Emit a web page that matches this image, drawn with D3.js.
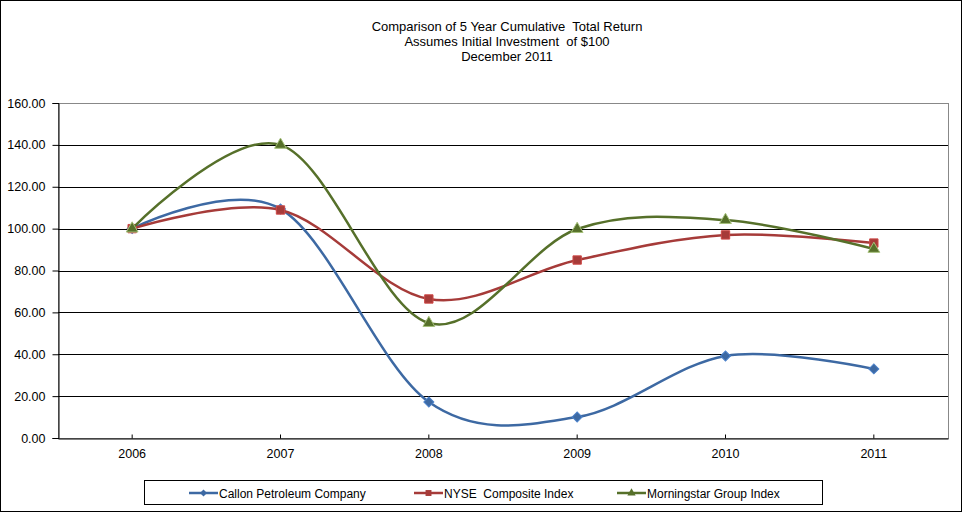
<!DOCTYPE html>
<html>
<head>
<meta charset="utf-8">
<script src="https://cdn.jsdelivr.net/npm/d3@7"></script>
<style>
  body { margin: 0; background: #fff; }
  svg { font-family: "Liberation Sans", Arial, sans-serif; }
</style>
</head>
<body>
<div id="chart"></div>
<script>
// data
const years = ['2006', '2007', '2008', '2009', '2010', '2011'];
const callon = [100, 109.4, 17.2, 10.0, 39.2, 33.0];
const nyse = [100, 108.9, 66.4, 85.0, 97.0, 93.1];
const morningstar = [100, 140.0, 54.9, 99.8, 104.1, 90.3];
const yTicks = [0, 20, 40, 60, 80, 100, 120, 140, 160];
const titleLines = ['Comparison of 5 Year Cumulative  Total Return', 'Assumes Initial Investment  of $100', 'December 2011'];

// diamond = square turned 45deg (Excel style)
const series = [
  {name: 'Callon Petroleum Company', values: callon, color: '#3d69a3', marker: d3.symbolSquare, rot: 45, size: 50},
  {name: 'NYSE  Composite Index', values: nyse, color: '#a63b39', marker: d3.symbolSquare, rot: 0, size: 70},
  {name: 'Morningstar Group Index', values: morningstar, color: '#56702a', marker: d3.symbolTriangle, rot: 0, size: 60}
];

const width = 963, height = 513;
const margin = {left: 58, top: 103, right: 15, bottom: 75};

const svg = d3.select('#chart').append('svg')
    .attr('width', width)
    .attr('height', height);

// outer frame
svg.append('rect').attr('x', 0.5).attr('y', 0.5)
    .attr('width', width - 2).attr('height', height - 2)
    .style('fill', 'none').style('stroke', '#000');

const x = d3.scaleBand()
    .domain(years)
    .range([margin.left, width - margin.right]);

const y = d3.scaleLinear()
    .domain([0, 160])
    .range([height - margin.bottom, margin.top]);

// title
svg.append('g').selectAll('text')
  .data(titleLines)
  .enter().append('text')
    .attr('x', 507)
    .attr('y', (d, i) => 31 + i * 15)
    .attr('text-anchor', 'middle')
    .style('font-size', '13px')
    .style('white-space', 'pre')
    .text(d => d);

// plot area border
svg.append('rect')
    .attr('x', margin.left + 0.5).attr('y', y(160) + 0.5)
    .attr('width', x.range()[1] - margin.left).attr('height', y(0) - y(160))
    .style('fill', 'none').style('stroke', '#888');

// gridlines
svg.append('g').selectAll('line')
  .data(yTicks.filter(d => d > 0 && d < 160))
  .enter().append('line')
    .attr('x1', margin.left).attr('x2', x.range()[1])
    .attr('y1', d => Math.round(y(d)) + 0.5).attr('y2', d => Math.round(y(d)) + 0.5)
    .style('stroke', '#000');

// y axis
const yAxis = svg.append('g')
    .attr('transform', 'translate(' + (margin.left + 0.5) + ',0)')
    .call(d3.axisLeft(y).tickValues(yTicks).tickSize(6).tickPadding(7).tickFormat(d3.format('.2f')));
yAxis.select('.domain').style('stroke', '#000');
yAxis.selectAll('text').style('font-size', '12.5px').style('font-family', '"Liberation Sans", Arial, sans-serif').attr('fill', '#000');

// x axis
const xAxis = svg.append('g')
    .attr('transform', 'translate(0,' + (y(0) + 0.5) + ')')
    .call(d3.axisBottom(x).tickSize(-4).tickPadding(11).tickSizeOuter(0));
xAxis.select('.domain').style('stroke', '#000');
xAxis.selectAll('text').style('font-size', '12.5px').style('font-family', '"Liberation Sans", Arial, sans-serif').attr('fill', '#000');

const cx = d => x(d) + x.bandwidth() / 2;

const line = d3.line()
    .x((d, i) => cx(years[i]))
    .y(d => y(d))
    .curve(d3.curveCatmullRom.alpha(0));

series.forEach(s => {
  svg.append('path')
      .datum(s.values)
      .attr('d', line)
      .style('fill', 'none')
      .style('stroke', s.color)
      .style('stroke-width', 2.5);

  svg.append('g').selectAll('path')
    .data(s.values)
    .enter().append('path')
      .attr('transform', (d, i) => 'translate(' + cx(years[i]) + ',' + y(d) + ') rotate(' + s.rot + ')')
      .attr('d', d3.symbol().type(s.marker).size(s.size))
      .style('fill', s.color)
      .style('stroke', s.marker === d3.symbolTriangle ? '#a5c07a' : d3.color(s.color).brighter(0.6))
      .style('stroke-width', 1);
});

// legend
const legend = svg.append('g');
legend.append('rect')
    .attr('x', 144.5).attr('y', 480.5)
    .attr('width', 678).attr('height', 24)
    .style('fill', 'none').style('stroke', '#000');

const legendX = [189, 414, 617];
series.forEach((s, i) => {
  const g = legend.append('g').attr('transform', 'translate(' + legendX[i] + ',493)');
  g.append('line').attr('x1', 0).attr('x2', 29)
      .style('stroke', s.color).style('stroke-width', 2.5);
  g.append('path')
      .attr('transform', 'translate(14.5,0) rotate(' + s.rot + ')')
      .attr('d', d3.symbol().type(s.marker).size(s.size * 0.5))
      .style('fill', s.color);
  g.append('text')
      .attr('x', 30).attr('y', 4.5)
      .style('font-size', '12px')
      .style('white-space', 'pre')
      .text(s.name);
});
</script>
</body>
</html>
